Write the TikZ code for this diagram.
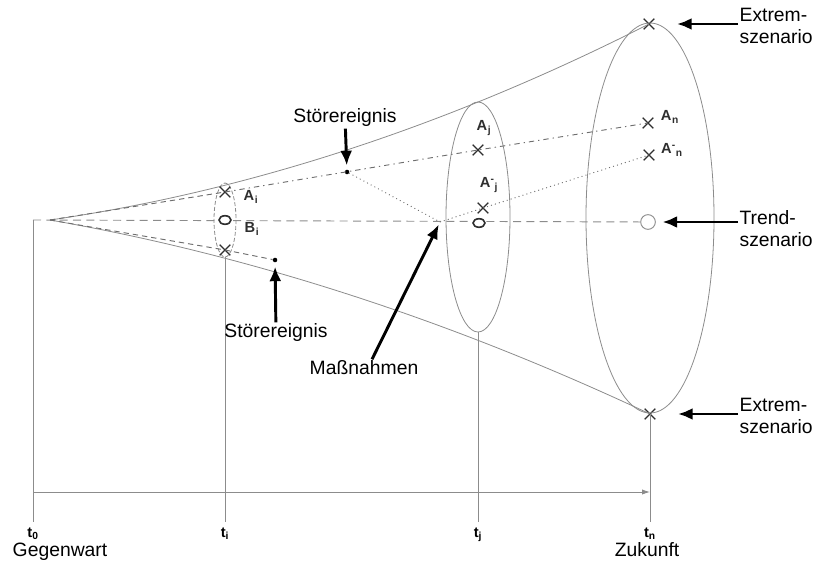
\documentclass[tikz,border=0pt]{standalone}
\usepackage{fontspec}
\setmainfont{Liberation Sans}
\usetikzlibrary{arrows.meta,shapes.misc}
\definecolor{ConeGrey}{HTML}{8C8C8C}
\definecolor{PathGrey}{HTML}{6E6E6E}
\definecolor{MarkInk}{HTML}{2E2E2E}
\newcommand{\LabelFont}{\fontsize{14.5}{16.5}\selectfont}
\newcommand{\MarkFont}{\fontsize{11}{12}\selectfont\bfseries}
\newcommand{\TimeFont}{\fontsize{11}{12}\selectfont\bfseries}
\newcommand{\Mk}[3]{#1\textsuperscript{#2}\textsubscript{#3}}
\tikzset{
  cone line/.style={draw=ConeGrey,line width=0.6pt},
  slice line/.style={draw=ConeGrey,line width=0.6pt,dash pattern=on 3pt off 1.5pt},
  trend line/.style={draw=ConeGrey,line width=0.7pt,dash pattern=on 6pt off 4pt},
  dashdot line/.style={draw=PathGrey,line width=0.7pt,dash pattern=on 4pt off 3pt on 1pt off 3pt},
  dashed line/.style={draw=PathGrey,line width=0.7pt,dash pattern=on 4pt off 3pt},
  dotted line/.style={draw=PathGrey,line width=0.9pt,line cap=round,dash pattern=on 0.1pt off 3pt},
  xmark/.style={cross out,draw=MarkInk,line width=1pt,minimum size=7pt,inner sep=0pt},
  omark/.style={draw=MarkInk,fill=white,line width=1.2pt},
  trend mark/.style={circle,draw=ConeGrey,fill=white,line width=0.7pt,minimum size=11pt,inner sep=0pt},
  event dot/.style={circle,fill=black,minimum size=3.4pt,inner sep=0pt},
  big arrow/.style={draw=black,line width=2.2pt,-{Latex[length=11pt,width=9pt]}},
  axis arrow/.style={draw=ConeGrey,line width=0.7pt,-{Latex[length=6pt,width=4pt]}},
  lbl/.style={font=\LabelFont,text=black,inner sep=1pt},
  marklbl/.style={font=\MarkFont,text=MarkInk,inner sep=0pt}
}
\begin{document}
\begin{tikzpicture}[x=0.75pt,y=-0.75pt]
  \path[use as bounding box] (0,0) rectangle (827,566);

  \def\axisy{492}
  \def\footy{522}

  % cone and time slices
  \coordinate (origin) at (33,220);
  \coordinate (apex) at (50,220);
  \coordinate (tiC) at (225,220);
  \coordinate (tjC) at (478,217);
  \coordinate (tnC) at (650,218);
  \node[xmark] (extop) at (649,24) {};
  \node[xmark] (exbot) at (650,414) {};

  \draw[cone line] (apex) .. controls (250,191) and (450,125) .. (extop.center);
  \draw[cone line] (apex) .. controls (250,255) and (450,320) .. (exbot.center);
  \draw[slice line] (tiC) ellipse[x radius=11,y radius=37];
  \draw[cone line] (tjC) ellipse[x radius=32,y radius=115];
  \draw[cone line] (tnC) ellipse[x radius=64,y radius=195];

  % time axis
  \newcommand{\timeslice}[4]{%
    \coordinate (#1top) at (#2,#3);%
    \coordinate (#1foot) at (#2,\footy);%
    \draw[cone line] (#1top) -- (#1foot);%
    \node[font=\TimeFont,anchor=north,inner sep=1pt] (#1lbl) at (#2,{\footy+4}) {#4};%
  }
  \timeslice{tz}{33}{220}{t\textsubscript{0}}
  \timeslice{ti}{225}{257}{t\textsubscript{i}}
  \timeslice{tj}{478}{332}{t\textsubscript{j}}
  \timeslice{tn}{650}{414}{t\textsubscript{n}}
  \coordinate (axisL) at (33,\axisy);
  \coordinate (axisR) at (650,\axisy);
  \draw[axis arrow] (axisL) -- (axisR);
  \node[lbl,anchor=north] (now) at (60,541) {Gegenwart};
  \node[lbl,anchor=north] (future) at (647,541) {Zukunft};

  % scenario marks
  \node[xmark] (ai) at (225,192) {};
  \coordinate (bi) at (225,220);
  \node[xmark] (ci) at (225,250) {};
  \node[xmark] (aj) at (478,150) {};
  \node[xmark] (ajs) at (483,208) {};
  \coordinate (bj) at (479,223);
  \node[xmark] (an) at (648,123) {};
  \node[xmark] (ans) at (649,155) {};
  \node[trend mark] (trend) at (648,222) {};
  \node[event dot] (sa) at (347,172) {};
  \node[event dot] (sb) at (275,260) {};
  \coordinate (mass) at (440,222);

  \node[marklbl] (ailbl) at (251,197) {\Mk{A}{}{i}};
  \node[marklbl] (bilbl) at (252,229) {\Mk{B}{}{i}};
  \node[marklbl] (ajlbl) at (484,128) {\Mk{A}{}{j}};
  \node[marklbl] (ajslbl) at (489,185) {\Mk{A}{-}{j}};
  \node[marklbl] (anlbl) at (670,117) {\Mk{A}{}{n}};
  \node[marklbl] (anslbl) at (672,150) {\Mk{A}{-}{n}};

  % development paths
  \draw[trend line] (origin) -- (trend);
  \draw[dashed line] (apex) -- (ai.center);
  \draw[dashdot line] (ai.center) -- (aj.center) -- (an.center);
  \draw[dashed line] (apex) -- (ci.center) -- (sb);
  \draw[dotted line] (sa) -- (mass) -- (ajs.center) -- (ans.center);
  \filldraw[omark] (bi) ellipse[x radius=4.5pt,y radius=3.2pt];
  \filldraw[omark] (bj) ellipse[x radius=4.5pt,y radius=3.2pt];

  % labels with arrows
  \node[lbl] (eventA) at (345,118) {Störereignis};
  \node[lbl] (eventB) at (276,333) {Störereignis};
  \node[lbl] (measure) at (364,368) {Maßnahmen};
  \draw[big arrow,shorten >=3pt] (eventA) -- (sa);
  \draw[big arrow,shorten >=3pt] (eventB) -- (sb);
  \draw[big arrow,shorten >=2pt] (measure.north) ++(8,0) coordinate (mfoot) (mfoot) -- (mass);

  \node[lbl,align=left,anchor=west] (toplbl) at (738,26) {Extrem-\\szenario};
  \node[lbl,align=left,anchor=west] (trendlbl) at (738,229) {Trend-\\szenario};
  \node[lbl,align=left,anchor=west] (botlbl) at (738,416) {Extrem-\\szenario};
  \draw[big arrow,shorten >=17pt] (toplbl.west |- extop) -- (extop);
  \draw[big arrow,shorten >=5pt] (trendlbl.west |- trend) -- (trend);
  \draw[big arrow,shorten >=17pt] (botlbl.west |- exbot) -- (exbot);
\end{tikzpicture}
\end{document}
